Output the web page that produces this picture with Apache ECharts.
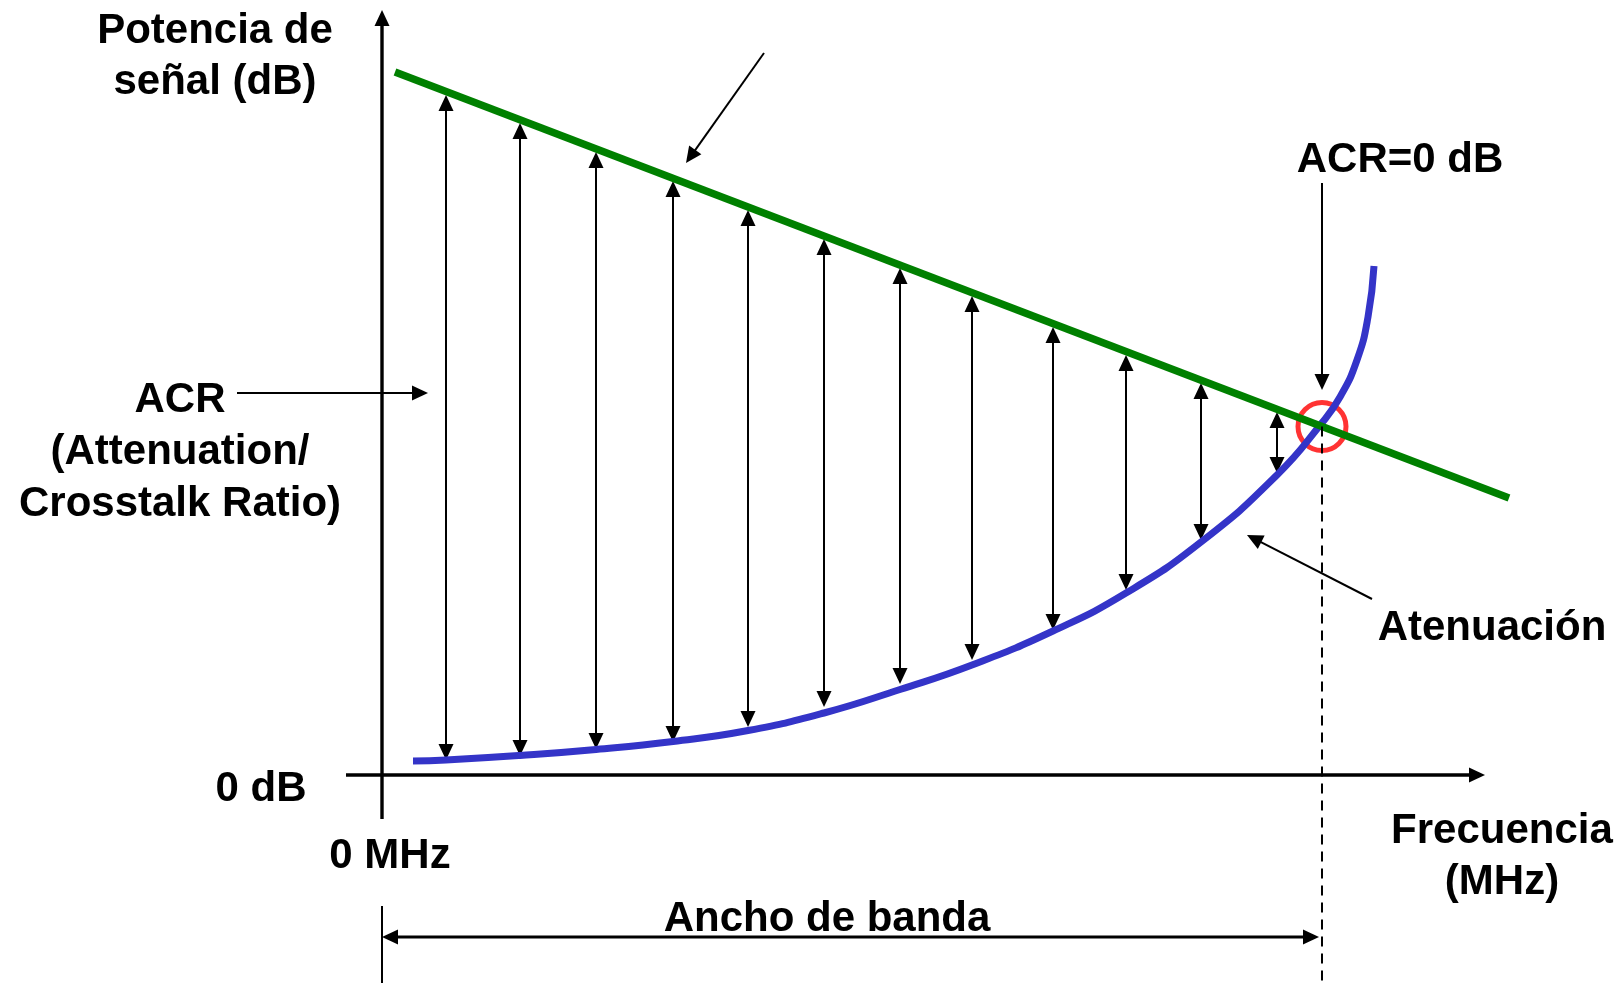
<!DOCTYPE html>
<html>
<head>
<meta charset="utf-8">
<style>
  html, body { margin: 0; padding: 0; background: #fff; }
  .acr-chart { width: 1620px; height: 983px; }
</style>
<script src="https://cdn.jsdelivr.net/npm/echarts@6/dist/echarts.min.js"></script>
</head>
<body>
<div class="acr-chart"></div>
<script>
// * ACR 示意图
// ? 使用 echarts.init 初始化实例对象
const acrChart = echarts.init(document.querySelector('.acr-chart'))

// ? 初始化数据（示意单位：x = 频率，y = dB）
// 信号功率（绿色直线）
const senalX = [1.3, 112.7]
const senalY = [70.3, 27.7]
// 衰减（蓝色曲线）
const atenX = [3.1, 6.4, 13.8, 21.4, 29.1, 36.6, 44.2, 51.8, 59.0, 67.1, 74.4, 81.9, 89.5, 93.9, 95.8, 97.5, 98.6, 99.2]
const atenY = [1.4, 1.5, 1.95, 2.55, 3.35, 4.45, 6.2, 8.55, 11.0, 14.4, 18.2, 23.3, 30.0, 35.1, 37.8, 41.5, 45.8, 50.9]
// ACR 双向箭头
const acrX = [6.4, 13.8, 21.4, 29.1, 36.6, 44.2, 51.8, 59.0, 67.1, 74.4, 81.9, 89.5]
const acrTop = [68.0, 65.2, 62.3, 59.4, 56.5, 53.6, 50.7, 47.9, 44.8, 42.0, 39.2, 36.3]
const acrBottom = [1.5, 1.9, 2.6, 3.3, 4.8, 6.8, 9.1, 11.5, 14.5, 18.5, 23.5, 30.2]
// ACR = 0 dB 交点
const cruce = [94.0, 34.85]
// 坐标轴 [x1, y1, x2, y2]
const ejeY = [0, -4.4, 0, 76.5]
const ejeX = [-3.6, 0, 110.3, 0]
// 标注箭头 [x1, y1, x2, y2]
const flechaACR = [-14.5, 38.2, 4.6, 38.2]
const flechaCero = [94.0, 59.2, 94.0, 38.5]
const flechaAten = [99.0, 17.6, 86.5, 24.0]
const flechaSenal = [38.2, 72.2, 30.4, 61.2]
const flechaBanda = [0, -16.2, 93.7, -16.2]
const marcaBanda = [0, -13.1, 0, -20.8]

const FONT = 'bold 42px "Liberation Sans", Arial, sans-serif'

// ? 箭头：custom 系列，通过 api.coord 换算坐标
function arrowSeries (items, width, heads) {
  return {
    type: 'custom',
    coordinateSystem: 'cartesian2d',
    silent: true,
    data: items,
    renderItem: function (params, api) {
      const a = api.coord([api.value(0), api.value(1)])
      const b = api.coord([api.value(2), api.value(3)])
      const dx = b[0] - a[0]
      const dy = b[1] - a[1]
      const len = Math.sqrt(dx * dx + dy * dy)
      const ux = dx / len
      const uy = dy / len
      const L = 16
      const W = 7.5
      const children = []
      let s = a
      let e = b
      function head (tip, vx, vy) {
        const bx = tip[0] - vx * L
        const by = tip[1] - vy * L
        return {
          type: 'polygon',
          shape: { points: [tip, [bx - vy * W, by + vx * W], [bx + vy * W, by - vx * W]] },
          style: { fill: '#000' }
        }
      }
      if (heads[0]) {
        children.push(head(a, -ux, -uy))
        s = [a[0] + ux * (L - 2), a[1] + uy * (L - 2)]
      }
      if (heads[1]) {
        children.push(head(b, ux, uy))
        e = [b[0] - ux * (L - 2), b[1] - uy * (L - 2)]
      }
      children.unshift({
        type: 'line',
        shape: { x1: s[0], y1: s[1], x2: e[0], y2: e[1] },
        style: { stroke: '#000', lineWidth: width }
      })
      return { type: 'group', children: children }
    }
  }
}

function label (text, x, y) {
  return {
    type: 'text',
    x: x,
    y: y,
    style: {
      text: text,
      font: FONT,
      fill: '#000',
      align: 'center',
      verticalAlign: 'middle',
      textAlign: 'center',
      textVerticalAlign: 'middle'
    }
  }
}

// ? 设置配置项
const option = {
  animation: false,
  grid: { left: 0, right: 0, top: 0, bottom: 0 },
  xAxis: { type: 'value', min: -38.2, max: 123.8, show: false },
  yAxis: { type: 'value', min: -20.8, max: 77.5, show: false },
  graphic: [
    label('Potencia de', 215, 31),
    label('señal (dB)', 215, 82),
    label('ACR', 180, 400),
    label('(Attenuation/', 180, 452),
    label('Crosstalk Ratio)', 180, 504),
    label('0 dB', 261, 789),
    label('0 MHz', 390, 856),
    label('Frecuencia', 1502, 831),
    label('(MHz)', 1502, 882),
    label('Ancho de banda', 827, 919),
    label('Atenuación', 1492, 628),
    label('ACR=0 dB', 1400, 160)
  ],
  series: [
    {
      name: 'Atenuación',
      type: 'line',
      smooth: 0.5,
      symbol: 'none',
      silent: true,
      data: atenX.map((x, i) => [x, atenY[i]]),
      lineStyle: { color: '#3434c8', width: 7 }
    },
    {
      name: 'Señal',
      type: 'line',
      symbol: 'none',
      silent: true,
      data: senalX.map((x, i) => [x, senalY[i]]),
      lineStyle: { color: '#008000', width: 7.5, cap: 'butt' }
    },
    {
      name: 'Límite',
      type: 'line',
      symbol: 'none',
      silent: true,
      data: [cruce, [cruce[0], -20.8]],
      lineStyle: { color: '#000', width: 2, type: [10, 7] }
    },
    arrowSeries([ejeY, ejeX], 3.4, [0, 1]),
    arrowSeries(acrX.map((x, i) => [x, acrBottom[i], x, acrTop[i]]), 2, [1, 1]),
    arrowSeries([flechaACR, flechaCero, flechaAten, flechaSenal], 2, [0, 1]),
    arrowSeries([flechaBanda], 3, [1, 1]),
    arrowSeries([marcaBanda], 2, [0, 0]),
    {
      name: 'ACR=0',
      type: 'scatter',
      silent: true,
      symbol: 'circle',
      symbolSize: 48,
      data: [cruce],
      itemStyle: { color: 'rgba(0,0,0,0)', borderColor: '#ff0000', borderWidth: 5 }
    }
  ]
}

// ? 使用 setOption 应用配置项
acrChart.setOption(option)
</script>
</body>
</html>
